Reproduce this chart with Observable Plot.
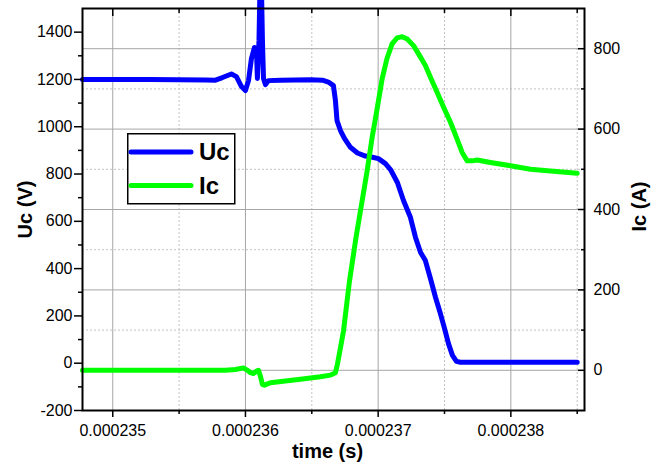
<!DOCTYPE html>
<html>
<head>
<meta charset="utf-8">
<script src="https://cdn.jsdelivr.net/npm/d3@7"></script>
<script src="https://cdn.jsdelivr.net/npm/@observablehq/plot@0.6"></script>
<style>
  body { margin: 0; background: #fff; font-family: "Liberation Sans", Arial, sans-serif; }
  #wrap { position: relative; width: 662px; height: 466px; }
  #legend { position: absolute; left: 127px; top: 133px; }
</style>
</head>
<body>
<div id="wrap"></div>
<script>
// ---- Data (time in microseconds; converted to seconds for plotting) ----
const ucTime = [234.772, 235.284, 235.699, 235.774, 235.827, 235.894, 235.932, 235.970, 236.000, 236.023,
  236.045, 236.068, 236.083, 236.090, 236.102, 236.109, 236.121, 236.128, 236.136, 236.151,
  236.173, 236.264, 236.490, 236.580, 236.625, 236.663, 236.678, 236.690, 236.716, 236.746,
  236.791, 236.844, 236.904, 236.957, 237.002, 237.055, 237.093, 237.145, 237.191, 237.243,
  237.281, 237.319, 237.356, 237.394, 237.432, 237.469, 237.500, 237.530, 237.560, 237.590,
  237.620, 238.500];
const ucValue = [1200, 1200, 1198, 1197, 1208, 1223, 1212, 1170, 1153, 1195,
  1288, 1335, 1322, 1204, 1364, 1576, 1576, 1364, 1204, 1178,
  1195, 1197, 1199, 1197, 1189, 1174, 1111, 1026, 984, 951,
  913, 889, 876, 871, 865, 844, 819, 764, 688, 617,
  533, 469, 434, 358, 279, 210, 147, 83, 33, 8,
  4, 4];

const icTime = [234.772, 235.849, 235.925, 235.985, 236.015, 236.038, 236.060, 236.083, 236.098, 236.113,
  236.128, 236.143, 236.188, 236.414, 236.565, 236.641, 236.678, 236.693, 236.716, 236.739,
  236.784, 236.833, 236.879, 236.917, 236.955, 236.992, 237.030, 237.066, 237.105, 237.143,
  237.181, 237.219, 237.268, 237.319, 237.356, 237.394, 237.445, 237.494, 237.545, 237.595,
  237.633, 237.671, 237.708, 237.746, 237.846, 237.997, 238.148, 238.298, 238.500];
const icValue = [0, 0, 2, 6, 0, -6, -8, -2, 0, -15,
  -35, -37, -31, -22, -16, -12, -6, 15, 56, 98,
  222, 330, 421, 496, 580, 650, 725, 775, 812, 827,
  830, 824, 807, 779, 758, 729, 691, 654, 617, 575,
  542, 521, 521, 523, 517, 509, 500, 496, 490];

// ---- Axes / ticks ----
const xMajorTicks = [0.000235, 0.000236, 0.000237, 0.000238];
const xMinorTicks = [0.0002355, 0.0002365, 0.0002375, 0.0002385];
const ucMajorTicks = [-200, 0, 200, 400, 600, 800, 1000, 1200, 1400];
const ucMinorTicks = [-100, 100, 300, 500, 700, 900, 1100, 1300];
const icMajorTicks = [0, 200, 400, 600, 800];
const icMinorTicks = [100, 300, 500, 700];

const xDomain = [234.772e-6, 238.555e-6];
const ucDomain = [-200, 1500];
const icDomain = [-100, 900];

// map Ic (right axis) into Uc (left axis) coordinates
const k = (ucDomain[1] - ucDomain[0]) / (icDomain[1] - icDomain[0]);
const toU = (i) => ucDomain[0] + (i - icDomain[0]) * k;
const fromU = (u) => icDomain[0] + (u - ucDomain[0]) / k;

const uc = ucTime.map((t, i) => ({t: t * 1e-6, v: ucValue[i]}));
const ic = icTime.map((t, i) => ({t: t * 1e-6, v: toU(icValue[i])}));

const BLUE = "#0000ff";
const GREEN = "#00ff00";
const GRID = "#a6a6a6";
const GRID_MINOR = "#c4c4c4";
const fmtX = (d) => d.toFixed(6);
const fmtPlain = (d) => String(Math.round(d));

const chart = Plot.plot({
  width: 662,
  height: 466,
  marginLeft: 82,
  marginRight: 78,
  marginTop: 8,
  marginBottom: 56,
  style: {fontFamily: "'Liberation Sans', Arial, sans-serif", fontSize: "16px", background: "white", color: "black", overflow: "visible"},
  x: {domain: xDomain},
  y: {domain: ucDomain},
  marks: [
    // grid
    Plot.ruleY(icMinorTicks.map(toU), {stroke: GRID_MINOR, strokeWidth: 1, strokeDasharray: "2,2"}),
    Plot.ruleX(xMinorTicks, {stroke: GRID_MINOR, strokeWidth: 1, strokeDasharray: "2,2"}),
    Plot.ruleY(icMajorTicks.map(toU), {stroke: GRID, strokeWidth: 1}),
    Plot.ruleX(xMajorTicks, {stroke: GRID, strokeWidth: 1}),
    // data
    Plot.line(uc, {x: "t", y: "v", stroke: BLUE, strokeWidth: 5, strokeLinejoin: "round", strokeLinecap: "round"}),
    Plot.line(ic, {x: "t", y: "v", stroke: GREEN, strokeWidth: 5, strokeLinejoin: "round", strokeLinecap: "round"}),
    // bottom axis
    Plot.axisX(xMajorTicks, {anchor: "bottom", tickSize: 7, tickPadding: 7, tickFormat: fmtX, fontSize: 16, label: null, strokeWidth: 1.5}),
    Plot.axisX(xMinorTicks, {anchor: "bottom", tickSize: 4, tickFormat: () => "", label: null, strokeWidth: 1.5}),
    // top axis (inward ticks)
    Plot.axisX(xMajorTicks, {anchor: "top", tickSize: -7, tickPadding: 20, tickFormat: () => "", label: null, strokeWidth: 1.5}),
    Plot.axisX(xMinorTicks, {anchor: "top", tickSize: -4, tickPadding: 20, tickFormat: () => "", label: null, strokeWidth: 1.5}),
    // left axis (Uc)
    Plot.axisY(ucMajorTicks, {anchor: "left", tickSize: 8, tickPadding: 2, fontSize: 16, label: null, strokeWidth: 1.5, tickFormat: fmtPlain}),
    Plot.axisY(ucMinorTicks, {anchor: "left", tickSize: 4, tickFormat: () => "", label: null, strokeWidth: 1.5}),
    // right axis (Ic), inward ticks
    Plot.axisY(icMajorTicks.map(toU), {anchor: "right", tickSize: -7, tickPadding: 16, fontSize: 16, label: null, strokeWidth: 1.5,
      tickFormat: (u) => fmtPlain(fromU(u))}),
    Plot.axisY(icMinorTicks.map(toU), {anchor: "right", tickSize: -4, tickPadding: 20, tickFormat: () => "", label: null, strokeWidth: 1.5}),
    // frame
    Plot.frame({stroke: "black", strokeWidth: 2}),
    // axis titles
    Plot.text(["Uc (V)"], {frameAnchor: "left", dx: -57, rotate: -90, fontSize: 20, fontWeight: "bold", lineAnchor: "middle", textAnchor: "middle"}),
    Plot.text(["Ic (A)"], {frameAnchor: "right", dx: 55, dy: -3, rotate: -90, fontSize: 20, fontWeight: "bold", lineAnchor: "middle", textAnchor: "middle"}),
    Plot.text(["time (s)"], {frameAnchor: "bottom", dx: -6, dy: 41, fontSize: 20, fontWeight: "bold", lineAnchor: "middle", textAnchor: "middle"})
  ]
});

const wrap = document.getElementById("wrap");
wrap.appendChild(chart);

// ---- Legend (inside the plot area) ----
const legendItems = [{label: "Uc", color: BLUE}, {label: "Ic", color: GREEN}];
const lg = d3.create("svg").attr("id", "legend").attr("width", 110).attr("height", 73)
  .style("font-family", "'Liberation Sans', Arial, sans-serif");
lg.append("rect").attr("x", 0.75).attr("y", 0.75).attr("width", 107).attr("height", 70)
  .attr("fill", "white").attr("stroke", "black").attr("stroke-width", 1.5);
legendItems.forEach((d, i) => {
  const cy = 19 + i * 33.5;
  lg.append("line").attr("x1", 4).attr("x2", 64).attr("y1", cy).attr("y2", cy)
    .attr("stroke", d.color).attr("stroke-width", 5).attr("stroke-linecap", "round");
  lg.append("text").attr("x", 72).attr("y", cy + 8).attr("font-size", 24).attr("font-weight", "bold")
    .attr("fill", "black").text(d.label);
});
wrap.appendChild(lg.node());
</script>
</body>
</html>
